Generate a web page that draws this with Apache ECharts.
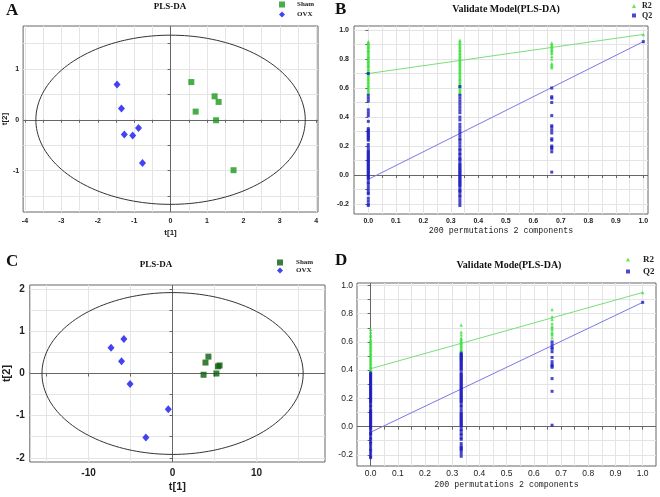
<!DOCTYPE html>
<html><head><meta charset="utf-8">
<script src="https://cdn.jsdelivr.net/npm/echarts@6/dist/echarts.min.js"></script>
<style>html,body{margin:0;padding:0;background:#fff}#c{width:660px;height:497px}</style>
</head><body><div id="c"></div>
<script>
// ---------- Panel A (PLS-DA scores) ----------
const shamA = [[0.57,0.74],[0.69,0.16],[1.21,0.46],[1.32,0.35],[1.25,-0.01],[1.73,-0.99]];
const ovxA  = [[-1.47,0.69],[-1.35,0.22],[-1.27,-0.29],[-1.04,-0.31],[-0.88,-0.16],[-0.77,-0.85]];
const ellA  = [3.70, 1.66];           // T2 ellipse semi-axes
const xTicksA = [-4,-3,-2,-1,0,1,2,3,4];
const yTicksA = [-1,0,1];

// ---------- Panel B (permutation test) ----------
const permX = [0, 0.333, 0.667, 1.0];
const bR2_0 = [0.92,0.915,0.905,0.90,0.89,0.885,0.88,0.87,0.86,0.855,0.85,0.84,0.83,0.82,0.815,0.81,0.80,0.79,0.785,0.78,0.77,0.76,0.755,0.75,0.74,0.73,0.72,0.71,0.70,0.69,0.68,0.67,0.66,0.65,0.64,0.63,0.62,0.61,0.60,0.59,0.58,0.57];
const bQ2_0 = [0.70,0.55,0.53,0.51,0.45,0.43,0.41,0.37,0.32,0.31,0.30,0.29,0.28,0.27,0.26,0.25,0.24,0.21,0.19,0.17,0.16,0.15,0.14,0.13,0.12,0.11,0.10,0.09,0.08,0.07,0.06,0.05,0.04,0.03,0.02,0.01,0.0,-0.01,-0.02,-0.03,-0.05,-0.06,-0.08,-0.10,-0.12,-0.13,-0.16,-0.18,-0.20,-0.21];
const bR2_1 = [0.93,0.92,0.91,0.90,0.89,0.88,0.87,0.86,0.85,0.84,0.83,0.82,0.81,0.80,0.79,0.78,0.77,0.76,0.75,0.74,0.73,0.72,0.71,0.70,0.69,0.68,0.67,0.66,0.65,0.64,0.63,0.62,0.61,0.60,0.59,0.58,0.57,0.56];
const bQ2_1 = [0.61,0.55,0.53,0.51,0.49,0.47,0.45,0.43,0.40,0.38,0.35,0.33,0.31,0.29,0.27,0.25,0.24,0.22,0.20,0.18,0.17,0.15,0.14,0.12,0.11,0.10,0.08,0.07,0.06,0.05,0.04,0.03,0.02,0.01,0.0,-0.01,-0.02,-0.03,-0.04,-0.05,-0.06,-0.07,-0.08,-0.10,-0.11,-0.12,-0.14,-0.15,-0.17,-0.19,-0.21];
const bR2_2 = [0.91,0.90,0.89,0.88,0.87,0.86,0.85,0.84,0.82,0.80,0.77,0.76,0.75,0.74];
const bQ2_2 = [0.60,0.54,0.53,0.50,0.41,0.34,0.33,0.31,0.29,0.25,0.24,0.20,0.19,0.18,0.16,0.02];
const bR2_3 = [0.97];
const bQ2_3 = [0.92];
const bR2Line = [[0,0.70],[1,0.97]];
const bQ2Line = [[0,-0.03],[1,0.92]];

// ---------- Panel C (PLS-DA scores) ----------
const shamC = [[3.69,-0.03],[3.92,0.26],[4.27,0.40],[5.22,0.0],[5.41,0.17],[5.60,0.19]];
const ovxC  = [[-7.33,0.61],[-5.80,0.82],[-6.08,0.29],[-5.06,-0.25],[-0.51,-0.85],[-3.18,-1.52]];
const ellC  = [15.55, 1.92];
const xTicksC = [-10,0,10];
const yTicksC = [-2,-1,0,1,2];

// ---------- Panel D (permutation test) ----------
const dR2_0 = [0.69,0.67,0.65,0.64,0.62,0.61,0.60,0.59,0.58,0.57,0.56,0.55,0.54,0.53,0.52,0.51,0.50,0.49,0.48,0.47,0.46,0.45,0.44,0.43,0.42,0.41,0.40,0.39];
const dQ2_0 = [0.38,0.37,0.36,0.35,0.34,0.33,0.32,0.31,0.30,0.29,0.28,0.27,0.26,0.25,0.24,0.23,0.22,0.21,0.20,0.19,0.18,0.17,0.15,0.14,0.12,0.11,0.10,0.09,0.08,0.07,0.06,0.05,0.04,0.03,0.02,0.01,0.0,-0.01,-0.02,-0.04,-0.05,-0.06,-0.08,-0.09,-0.11,-0.12,-0.14,-0.16,-0.17,-0.19,-0.21,-0.22];
const dR2_1 = [0.72,0.67,0.65,0.63,0.62,0.61,0.60,0.59,0.58,0.57,0.56,0.55,0.54,0.53,0.52,0.51,0.50,0.49,0.48];
const dQ2_1 = [0.52,0.51,0.50,0.49,0.48,0.47,0.46,0.45,0.44,0.43,0.42,0.41,0.40,0.38,0.37,0.36,0.35,0.34,0.33,0.32,0.31,0.30,0.29,0.28,0.27,0.26,0.25,0.24,0.23,0.22,0.21,0.20,0.19,0.18,0.17,0.15,0.14,0.12,0.10,0.09,0.08,0.07,0.06,0.05,0.04,0.03,0.02,0.01,0.0,-0.02,-0.03,-0.05,-0.06,-0.08,-0.09,-0.12,-0.14,-0.15,-0.16,-0.17,-0.19,-0.21];
const dR2_2 = [0.83,0.78,0.76,0.73,0.71,0.70,0.69,0.67,0.66,0.65,0.63];
const dQ2_2 = [0.60,0.58,0.56,0.55,0.53,0.49,0.46,0.44,0.43,0.42,0.34,0.25,0.01];
const dR2_3 = [0.95];
const dQ2_3 = [0.88];
const dR2Line = [[0,0.41],[1,0.95]];
const dQ2Line = [[0,-0.04],[1,0.88]];

const permTickLabels = [0,0.1,0.2,0.3,0.4,0.5,0.6,0.7,0.8,0.9,1.0];
const permYLabels = [-0.2,0,0.2,0.4,0.6,0.8,1.0];

// ---------- helpers ----------
function range(a,b,s){const r=[];for(let v=a;v<=b+1e-9;v+=s)r.push(Math.round(v*1000)/1000);return r;}
function ellipse(r){const p=[];for(let i=0;i<=180;i++){const t=i/180*2*Math.PI;p.push([r[0]*Math.cos(t),r[1]*Math.sin(t)]);}return p;}
function col(x,vals){return vals.map(v=>[x,v]);}

const SANS='"Liberation Sans", Arial, sans-serif';
const SERIF='"Liberation Serif", "Times New Roman", serif';
const MONO='"Liberation Mono", "Courier New", monospace';
const GRIDC='#e4e4e4';

function axis(o){
  return {
    type:'value', gridIndex:o.g, min:o.min, max:o.max,
    axisLine:{show:false},
    axisTick:{show:true, customValues:o.ticks, length:3, lineStyle:{color:'#666'}},
    axisLabel:{customValues:o.labels, fontSize:o.fs, fontWeight:o.fw||'bold', fontFamily:SANS, color:'#222', margin:o.margin,
               formatter:o.fmt||undefined},
    splitLine:{show:true, lineStyle:{color:GRIDC, width:1}},
    name:o.name||'', nameLocation:'middle', nameGap:o.nameGap||0,
    nameTextStyle:o.nameStyle||{}
  };
}
const fmt1 = v=>Number(v).toFixed(1);

const grids = [
  {left:23, top:26, width:295, height:186},
  {left:354, top:26, width:294, height:188},
  {left:26, top:285, width:299, height:177},
  {left:357, top:283, width:299, height:183}
].map(g=>Object.assign(g,{show:true, borderColor:'#666', borderWidth:1, containLabel:false}));

const xAxes = [
  axis({g:0,min:-4.05,max:4.05,ticks:range(-4,4,0.5),labels:xTicksA,fs:7,margin:6,
        name:'t[1]',nameGap:17,nameStyle:{fontFamily:SANS,fontWeight:'bold',fontSize:8,color:'#222'}}),
  axis({g:1,min:-0.052,max:1.017,ticks:range(0,1,0.05),labels:permTickLabels,fs:7,margin:4,fmt:fmt1,
        name:'200 permutations 2 components',nameGap:13,nameStyle:{fontFamily:MONO,fontSize:8.3,color:'#222'}}),
  axis({g:2,min:-17.0,max:18.15,ticks:range(-15,15,5),labels:xTicksC,fs:10,margin:6,
        name:'t[1]',nameGap:19,nameStyle:{fontFamily:SANS,fontWeight:'bold',fontSize:11,color:'#222'}}),
  axis({g:3,min:-0.05,max:1.049,ticks:range(0,1,0.05),labels:permTickLabels,fs:8.5,fw:'normal',margin:3,fmt:fmt1,
        name:'200 permutations 2 components',nameGap:15,nameStyle:{fontFamily:MONO,fontSize:8.3,color:'#222'}})
];
const yAxes = [
  axis({g:0,min:-1.81,max:1.84,ticks:range(-1.5,1.5,0.5),labels:yTicksA,fs:7,margin:4,
        name:'t[2]',nameGap:11,nameStyle:{fontFamily:SANS,fontWeight:'bold',fontSize:8,color:'#222'}}),
  axis({g:1,min:-0.269,max:1.028,ticks:range(-0.2,1.0,0.1),labels:permYLabels,fs:7,margin:5,fmt:fmt1}),
  axis({g:2,min:-2.10,max:2.10,ticks:range(-2,2,0.5),labels:yTicksC,fs:10,margin:5,
        name:'t[2]',nameGap:13,nameStyle:{fontFamily:SANS,fontWeight:'bold',fontSize:11,color:'#222'}}),
  axis({g:3,min:-0.279,max:1.017,ticks:range(-0.2,1.0,0.1),labels:permYLabels,fs:8.5,fw:'normal',margin:4,fmt:fmt1})
];

const ZL = {color:'#666', width:1, type:'solid'};
function zeroLines(arr){return {silent:true, symbol:'none', label:{show:false}, lineStyle:ZL, data:arr, z:2};}

const GA='#1c9a1c', BL='#1414f0', GC='#0b5e0b', R2C='#3ee03e', Q2C='#1c1cc0';
const R2L='#79e079', Q2L='#7878e6';

const series = [];
// A
series.push({type:'line', xAxisIndex:0, yAxisIndex:0, data:ellipse(ellA), showSymbol:false, silent:true,
  lineStyle:{color:'#333', width:1}, markLine:zeroLines([{xAxis:0},{yAxis:0}]), z:3});
series.push({name:'Sham', type:'scatter', xAxisIndex:0, yAxisIndex:0, data:shamA, symbol:'rect', symbolSize:6, itemStyle:{color:GA}, z:8});
series.push({name:'OVX', type:'scatter', xAxisIndex:0, yAxisIndex:0, data:ovxA, symbol:'diamond', symbolSize:[7,8], itemStyle:{color:BL}, z:8});
// B
series.push({type:'line', xAxisIndex:1, yAxisIndex:1, data:bR2Line, showSymbol:false, silent:true, lineStyle:{color:R2L,width:1}, markLine:zeroLines([{yAxis:0}]), z:3});
series.push({type:'line', xAxisIndex:1, yAxisIndex:1, data:bQ2Line, showSymbol:false, silent:true, lineStyle:{color:Q2L,width:1}, z:3});
series.push({name:'R2', type:'scatter', xAxisIndex:1, yAxisIndex:1, symbol:'triangle', symbolSize:3.5,
  data:[].concat(col(permX[0],bR2_0),col(permX[1],bR2_1),col(permX[2],bR2_2),col(permX[3],bR2_3)), itemStyle:{color:R2C}, z:8});
series.push({name:'Q2', type:'scatter', xAxisIndex:1, yAxisIndex:1, symbol:'rect', symbolSize:3,
  data:[].concat(col(permX[0],bQ2_0),col(permX[1],bQ2_1),col(permX[2],bQ2_2),col(permX[3],bQ2_3)), itemStyle:{color:Q2C}, z:9});
// C
series.push({type:'line', xAxisIndex:2, yAxisIndex:2, data:ellipse(ellC), showSymbol:false, silent:true,
  lineStyle:{color:'#333', width:1}, markLine:zeroLines([{xAxis:0},{yAxis:0}]), z:3});
series.push({name:'Sham', type:'scatter', xAxisIndex:2, yAxisIndex:2, data:shamC, symbol:'rect', symbolSize:6, itemStyle:{color:GC}, z:8});
series.push({name:'OVX', type:'scatter', xAxisIndex:2, yAxisIndex:2, data:ovxC, symbol:'diamond', symbolSize:[7,8], itemStyle:{color:BL}, z:8});
// D
series.push({type:'line', xAxisIndex:3, yAxisIndex:3, data:dR2Line, showSymbol:false, silent:true, lineStyle:{color:R2L,width:1}, markLine:zeroLines([{xAxis:0},{yAxis:0}]), z:3});
series.push({type:'line', xAxisIndex:3, yAxisIndex:3, data:dQ2Line, showSymbol:false, silent:true, lineStyle:{color:Q2L,width:1}, z:3});
series.push({name:'R2', type:'scatter', xAxisIndex:3, yAxisIndex:3, symbol:'triangle', symbolSize:3.5,
  data:[].concat(col(permX[0],dR2_0),col(permX[1],dR2_1),col(permX[2],dR2_2),col(permX[3],dR2_3)), itemStyle:{color:R2C}, z:8});
series.push({name:'Q2', type:'scatter', xAxisIndex:3, yAxisIndex:3, symbol:'rect', symbolSize:3,
  data:[].concat(col(permX[0],dQ2_0),col(permX[1],dQ2_1),col(permX[2],dQ2_2),col(permX[3],dQ2_3)), itemStyle:{color:Q2C}, z:9});

function legend(left, top, gap, iw, fs, pad, items){
  return {left:left, top:top, orient:'vertical', padding:0, itemGap:gap, itemWidth:iw, itemHeight:iw,
    selectedMode:false,
    textStyle:{fontFamily:SERIF, fontWeight:'bold', fontSize:fs, color:'#222', padding:[0,0,0,pad]},
    data:items};
}
const legends = [
  legend(279, 1, 3, 6, 7, 7, [{name:'Sham',icon:'rect',itemStyle:{color:GA}},{name:'OVX',icon:'diamond',itemStyle:{color:BL}}]),
  legend(632, 2, 1.5, 4, 8, 1, [{name:'R2',icon:'triangle',itemStyle:{color:R2C}},{name:'Q2',icon:'rect',itemStyle:{color:Q2C}}]),
  legend(277, 259, 1, 6, 7, 8, [{name:'Sham',icon:'rect',itemStyle:{color:GC}},{name:'OVX',icon:'diamond',itemStyle:{color:BL}}]),
  legend(626, 255, 3, 4, 9, 8, [{name:'R2',icon:'triangle',itemStyle:{color:R2C}},{name:'Q2',icon:'rect',itemStyle:{color:Q2C}}])
];

function txt(x,y,s,fs,align){
  return {type:'text', x:x, y:y, silent:true,
    style:{text:s, fontFamily:SERIF, fontWeight:'bold', fontSize:fs, fill:'#111', align:align||'left', verticalAlign:'middle'}};
}
const graphics = [
  txt(6,11,'A',17), txt(335,10,'B',17), txt(6,262,'C',17), txt(335,261,'D',17),
  txt(170,7,'PLS-DA',9,'center'),
  txt(506,9,'Validate Model(PLS-DA)',10,'center'),
  txt(156,265,'PLS-DA',9,'center'),
  txt(509,265,'Validate Mode(PLS-DA)',10,'center')
];

const chart = echarts.init(document.getElementById('c'), null, {renderer:'canvas'});
chart.setOption({
  animation:false,
  backgroundColor:'#fff',
  grid:grids, xAxis:xAxes, yAxis:yAxes, series:series, legend:legends,
  graphic:{elements:graphics}
});
</script>
</body></html>
